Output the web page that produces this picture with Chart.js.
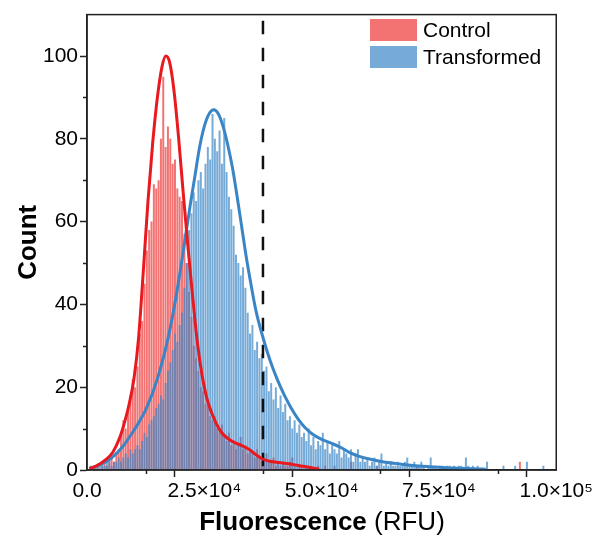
<!DOCTYPE html>
<html><head><meta charset="utf-8">
<script src="https://cdn.jsdelivr.net/npm/chart.js@4.4.0/dist/chart.umd.min.js"></script>
<style>html,body{margin:0;padding:0;background:#fff;}#wrap{width:595px;height:539px;}</style>
</head><body><div id="wrap"><canvas id="c" width="595" height="539"></canvas></div>
<script>
// histogram bin width (RFU); bins start at 0
const binWidth = 500;
const controlCounts = [
 0,0,1,0,1,0,1,2,1,2,
 3,2,4,5,9,12,10,14,18,22,
 20,25,33,36,45,53,58,60,69,68,
 70,80,95,78,83,80,74,75,68,66,
 65,57,50,43,37,30,27,24,20,19,
 16,17,13,12,13,10,9,11,8,7,
 9,6,7,5,6,8,5,6,4,5,
 4,3,5,3,2,3,4,2,2,3,
 1,2,1,2,1,1,2,3,1,0,
 1,1,0,1,0,1,0,0,1,0,
 0,1,0,0,0,1,0,0,0,0,
 0,0,2,0,0,0,0,0,0,0,
 0,0,0,1,0,0,0,0,0,0,
 0,0,0,0,0,0,0,0,0,0,
 1,0,0,0,0,0,0,0,0,0,
 0,0,0,0,0,0,0,0,0,0,
 0,0,0,0,0,0,0,0,0,0,
 0,0,0,0,0,0,0,0,0,0,
 0,0,0,0,2,0,0,0,0,0,
 0,0,0,0,0,0,0,0,0,0
];
const transformedCounts = [
 0,1,0,1,1,1,2,1,2,3,
 1,2,2,3,2,3,4,3,5,4,
 5,6,5,7,9,8,11,12,13,15,
 16,18,17,21,24,26,29,33,31,35,
 38,44,50,58,62,67,65,70,72,68,
 74,78,75,86,80,77,82,74,85,72,
 66,63,59,52,50,47,49,44,38,33,
 35,29,31,27,28,24,25,19,21,17,
 20,15,18,14,16,12,13,10,12,9,
 11,8,9,7,10,6,8,5,7,6,
 9,5,7,4,6,5,4,7,3,5,
 4,3,5,2,4,5,2,3,2,3,
 1,2,3,1,2,4,1,2,1,2,
 1,1,2,1,1,2,3,1,1,2,
 1,1,2,1,0,1,3,1,1,0,
 1,1,0,1,1,0,1,0,1,1,
 0,3,1,0,1,0,1,0,0,0,
 2,0,0,0,0,0,0,1,0,0,
 0,0,1,0,0,0,0,2,0,0,
 0,0,0,0,1,0,0,0,0,0
];
// fitted curves
const controlFitX = [500,2000,4000,5500,7000,8000,9000,10000,11000,12000,13000,14000,15000,16000,16800,17600,18500,19500,20500,21500,22500,23500,24500,25500,26500,27500,28500,30000,31500,33000,34500,36000,37500,39000,41000,43000,45000,47000,49500];
const controlFitY = [0.3,1.0,2.5,4.3,7.9,11.5,16,22,32,48,65,79,90,97.5,100,98.5,92,80.5,67,54,42,31,23,17.5,14,11.3,9.3,7.6,6.6,5.9,5.0,3.7,2.6,2.1,1.8,1.5,1.1,0.7,0.2];
const transformedFitX = [600,2500,5000,7500,10000,12500,15000,17500,19000,20000,21000,22000,23000,24000,25000,26000,27000,28000,29000,30000,31000,32000,33000,34000,35000,36000,37500,39000,40500,42000,43500,45000,46500,48000,50000,52000,54000,56000,58000,60000,63000,67000,70000,74000,78000,82000,85000];
const transformedFitY = [0.4,1.1,2.7,5.5,9.6,14.5,22,33,42,49,56.5,64,71,78,83,86,87,86,83,78.5,73,66,58.5,51,44.5,38.5,32,26.5,22,18.2,15,12.3,10.2,8.7,7.4,6.5,5.5,4.2,3.3,2.7,2.0,1.4,1.0,0.7,0.5,0.3,0.2];
const thresholdX = 37500;
const thresholdTop = 108.5;
const xTickLabels = {0:'0.0',25000:'2.5×10⁴',50000:'5.0×10⁴',75000:'7.5×10⁴',100000:'1.0×10⁵'};
const yTickLabels = [0,20,40,60,80,100];
const seriesNames = ['Control','Transformed'];

const RED_BAR = 'rgba(238,55,55,0.7)';
const BLUE_BAR = 'rgba(60,135,200,0.7)';
const FONT = '"Liberation Sans", Arial, sans-serif';

const binCenters = controlCounts.map((_, i) => i * binWidth + binWidth / 2);
const toXY = (xs, ys) => xs.map((x, i) => ({x, y: ys[i]}));

const framePlugin = {
  id: 'frame',
  afterDraw(chart) {
    const {ctx, chartArea: a, scales: {x, y}} = chart;
    ctx.save();
    ctx.strokeStyle = '#222';
    ctx.lineWidth = 1.5;
    ctx.strokeRect(a.left, a.top, a.right - a.left, a.bottom - a.top);
    ctx.beginPath();
    x.ticks.forEach(t => {
      if (xTickLabels[t.value] === undefined) {
        const px = Math.round(x.getPixelForValue(t.value)) + 0.5;
        ctx.moveTo(px, a.bottom); ctx.lineTo(px, a.bottom + 4);
      }
    });
    y.ticks.forEach(t => {
      if (!yTickLabels.includes(t.value) && t.value < 110) {
        const py = Math.round(y.getPixelForValue(t.value)) + 0.5;
        ctx.moveTo(a.left, py); ctx.lineTo(a.left - 4, py);
      }
    });
    ctx.stroke();
    // legend
    const lx = 370, sw = 47, sh = 22;
    const rows = [{c: RED_BAR, t: seriesNames[0], y: 19}, {c: BLUE_BAR, t: seriesNames[1], y: 46}];
    ctx.font = '21px ' + FONT;
    ctx.textBaseline = 'middle';
    ctx.textAlign = 'left';
    rows.forEach(r => {
      ctx.fillStyle = r.c;
      ctx.fillRect(lx, r.y, sw, sh);
      ctx.fillStyle = '#000';
      ctx.fillText(r.t, lx + sw + 6, r.y + sh / 2 + 1);
    });
    // x axis title: bold + normal parts
    const p1 = 'Fluorescence', p2 = ' (RFU)';
    ctx.font = 'bold 26px ' + FONT;
    const w1 = ctx.measureText(p1).width;
    ctx.font = '26px ' + FONT;
    const w2 = ctx.measureText(p2).width;
    const cx = 322, by = 530;
    let sx = cx - (w1 + w2) / 2;
    ctx.textBaseline = 'alphabetic';
    ctx.font = 'bold 26px ' + FONT;
    ctx.fillText(p1, sx, by);
    ctx.font = '26px ' + FONT;
    ctx.fillText(p2, sx + w1, by);
    ctx.restore();
  }
};

new Chart(document.getElementById('c'), {
  type: 'bar',
  data: {
    datasets: [
      {type: 'line', label: 'Control fit', data: toXY(controlFitX, controlFitY), borderColor: '#E8191F', borderWidth: 3, pointRadius: 0, cubicInterpolationMode: 'monotone', fill: false, order: 0},
      {type: 'line', label: 'Transformed fit', data: toXY(transformedFitX, transformedFitY), borderColor: '#3A85C5', borderWidth: 3, pointRadius: 0, cubicInterpolationMode: 'monotone', fill: false, order: 0},
      {type: 'line', label: 'Threshold', data: [{x: thresholdX, y: thresholdTop}, {x: thresholdX, y: 0}], borderColor: '#111', borderWidth: 2.5, borderDash: [13.5, 13.5], pointRadius: 0, fill: false, order: 0},
      {label: seriesNames[1], data: toXY(binCenters, transformedCounts), backgroundColor: BLUE_BAR, borderWidth: 0, grouped: false, barPercentage: 0.85, categoryPercentage: 1, order: 1},
      {label: seriesNames[0], data: toXY(binCenters, controlCounts), backgroundColor: RED_BAR, borderWidth: 0, grouped: false, barPercentage: 0.85, categoryPercentage: 1, order: 2}
    ]
  },
  options: {
    responsive: false,
    animation: false,
    devicePixelRatio: 1,
    layout: {padding: {top: 12, right: 38, left: 0, bottom: 0}},
    plugins: {legend: {display: false}, tooltip: {enabled: false}},
    scales: {
      x: {
        type: 'linear', min: 0, max: 100000, offset: false,
        afterFit: s => { s.height = 69; },
        grid: {drawOnChartArea: false, drawTicks: true, tickLength: 7, tickWidth: 1.5,
          tickColor: c => (c.tick && xTickLabels[c.tick.value] !== undefined) ? '#222' : 'rgba(0,0,0,0)'},
        border: {display: true, color: '#222', width: 1.5},
        ticks: {stepSize: 12500, autoSkip: false, maxRotation: 0, padding: 2, color: '#000',
          font: {family: FONT, size: 21},
          callback: v => xTickLabels[v] !== undefined ? xTickLabels[v] : ''}
      },
      y: {
        min: 0, max: 110,
        afterFit: s => { s.width = 87; },
        grid: {drawOnChartArea: false, drawTicks: true, tickLength: 7, tickWidth: 1.5,
          tickColor: c => (c.tick && yTickLabels.includes(c.tick.value)) ? '#222' : 'rgba(0,0,0,0)'},
        border: {display: true, color: '#222', width: 1.5},
        ticks: {stepSize: 10, autoSkip: false, padding: 2, color: '#000',
          font: {family: FONT, size: 21},
          callback: v => yTickLabels.includes(v) ? String(v) : ''},
        title: {display: true, text: 'Count', color: '#000', font: {family: FONT, size: 26, weight: 'bold'}, padding: {top: 13, bottom: 0}}
      }
    }
  },
  plugins: [framePlugin]
});
</script>
</body></html>
